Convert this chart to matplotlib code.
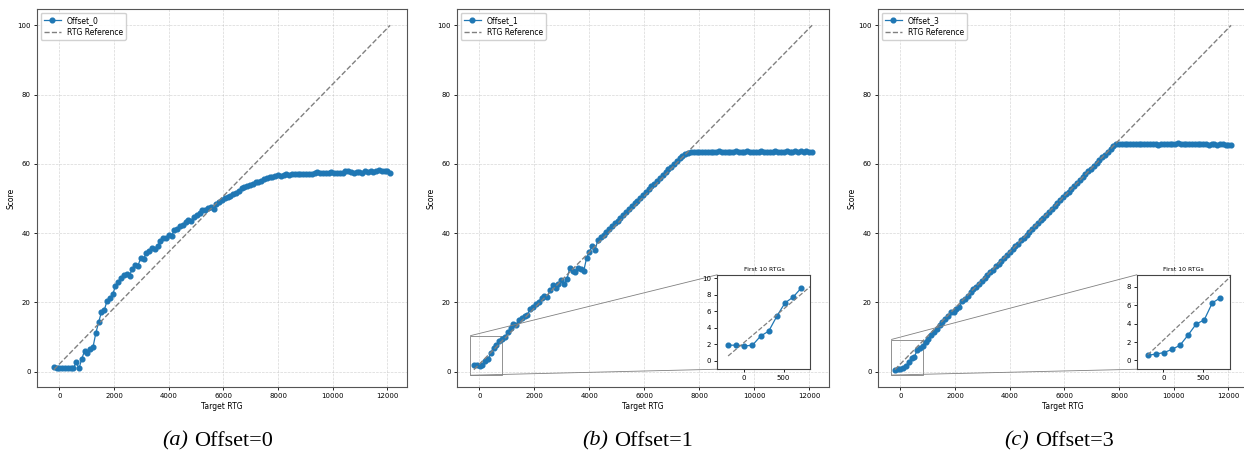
import numpy as np
import matplotlib
matplotlib.use("Agg")
import matplotlib.pyplot as plt
from mpl_toolkits.axes_grid1.inset_locator import mark_inset

# target RTG grid (121 evaluated targets)
rtg = np.arange(-200, 12101, 102.5)

# reference line end points (score at first / last RTG)
ref_line = [0.6, 100.0]

score_offset_0 = [
    1.4, 1.2, 1.2, 1.1, 1.1, 1.1, 1.1, 1.1, 2.7, 1.0,
    3.8, 6.1, 5.4, 6.6, 7.2, 11.2, 14.3, 17.3, 17.8, 20.5,
    21.3, 22.3, 24.8, 26.0, 27.0, 27.8, 28.1, 27.7, 29.8, 30.8,
    30.6, 32.8, 32.5, 34.3, 34.8, 35.6, 35.3, 36.4, 37.6, 38.7,
    38.5, 39.6, 39.3, 40.8, 41.1, 42.2, 42.4, 43.3, 43.9, 43.6,
    44.8, 45.3, 45.9, 46.6, 46.8, 47.4, 47.5, 47.0, 48.3, 48.9,
    49.6, 50.1, 50.4, 50.7, 51.2, 51.7, 52.2, 52.9, 53.3, 53.6,
    53.9, 54.2, 54.7, 54.8, 55.2, 55.6, 55.9, 56.1, 56.3, 56.6,
    56.7, 56.4, 56.8, 57.0, 56.9, 57.1, 57.2, 57.1, 57.2, 57.0,
    57.1, 57.2, 57.0, 57.3, 57.6, 57.4, 57.3, 57.5, 57.4, 57.6,
    57.5, 57.3, 57.5, 57.4, 57.8, 57.8, 57.7, 57.5, 57.6, 57.6,
    57.5, 57.8, 57.7, 57.8, 57.6, 57.9, 58.2, 57.8, 58.0, 57.8,
    57.5,
]

score_offset_1 = [
    1.9, 1.9, 1.8, 1.9, 3.0, 3.6, 5.4, 7.0, 7.7, 8.8,
    9.4, 10.0, 11.4, 12.6, 13.7, 13.6, 14.9, 15.6, 16.2, 16.5,
    18.2, 18.8, 19.7, 20.2, 21.4, 22.0, 21.6, 23.5, 25.0, 24.2,
    25.3, 26.5, 25.4, 26.7, 29.9, 29.1, 28.9, 30.0, 29.8, 29.2,
    32.9, 34.6, 36.4, 35.1, 38.1, 38.8, 39.6, 40.4, 41.2, 42.0,
    42.8, 43.6, 44.4, 45.3, 46.1, 46.9, 47.7, 48.6, 49.4, 50.2,
    51.0, 51.8, 52.7, 53.5, 54.3, 55.1, 55.9, 56.8, 57.6, 58.4,
    59.2, 60.0, 60.8, 61.6, 62.3, 62.8, 63.2, 63.4, 63.5, 63.4,
    63.5, 63.3, 63.5, 63.4, 63.5, 63.4, 63.3, 63.6, 63.5, 63.4,
    63.5, 63.3, 63.4, 63.6, 63.5, 63.5, 63.4, 63.6, 63.5, 63.3,
    63.4, 63.4, 63.6, 63.5, 63.5, 63.4, 63.5, 63.6, 63.4, 63.5,
    63.3, 63.7, 63.5, 63.4, 63.6, 63.5, 63.6, 63.5, 63.6, 63.5,
    63.5,
]

score_offset_3 = [
    0.55, 0.7, 0.85, 1.2, 1.65, 2.75, 3.95, 4.4, 6.25, 6.8,
    7.4, 8.6, 9.5, 10.7, 11.6, 12.4, 13.4, 14.3, 15.1, 16.0,
    17.2, 17.3, 18.0, 18.8, 20.3, 21.0, 22.0, 22.9, 23.8, 24.6,
    25.4, 26.2, 27.0, 27.9, 28.7, 29.5, 30.4, 31.2, 32.0, 32.9,
    33.7, 34.5, 35.4, 36.2, 37.0, 37.9, 38.7, 39.5, 40.4, 41.2,
    42.0, 42.8, 43.7, 44.5, 45.3, 46.2, 47.0, 47.8, 48.7, 49.5,
    50.3, 51.2, 52.0, 52.8, 53.6, 54.5, 55.3, 56.1, 57.0, 57.8,
    58.6, 59.4, 60.3, 61.1, 61.9, 62.7, 63.5, 64.3, 65.1, 65.6,
    65.7, 65.8, 65.7, 65.8, 65.7, 65.7, 65.6, 65.7, 65.7, 65.6,
    65.7, 65.6, 65.7, 65.7, 65.4, 65.7, 65.7, 65.8, 65.6, 65.7,
    65.7, 66.0, 65.8, 65.7, 65.7, 65.6, 65.7, 65.7, 65.8, 65.7,
    65.6, 65.7, 65.5, 65.6, 65.6, 65.5, 65.6, 65.6, 65.5, 65.5,
    65.4,
]

offset_labels = ["Offset_0", "Offset_1", "Offset_3"]
caption_tags = ["(a)", "(b)", "(c)"]
caption_texts = ["Offset=0", "Offset=1", "Offset=3"]

W, H = 1244, 458
fig = plt.figure(figsize=(W / 100, H / 100), dpi=100)

# panel frames in pixels: left, top, width, height
panel_px = [(37, 9, 370, 378), (457, 9, 372, 378), (878, 9, 370, 378)]
caption_px = [(188, 194), (608, 614), (1029, 1035)]
inset_ylims = [None, (-1.0, 10.4), (-0.95, 9.3)]

all_scores = [score_offset_0, score_offset_1, score_offset_3]
blue = "#1f77b4"

for k, scores in enumerate(all_scores):
    l, t, w, h = panel_px[k]
    ax = fig.add_axes([l / W, (H - t - h) / H, w / W, h / H])
    ax.plot(rtg, scores, marker="o", color=blue, markersize=3.4, linewidth=0.9,
            label=offset_labels[k])
    ax.plot([rtg[0], rtg[-1]], ref_line, "--", color="gray", linewidth=1.0,
            label="RTG Reference")
    ax.set_xlim(-815, 12715)
    ax.set_ylim(-4.4, 104.7)
    ax.set_xticks([0, 2000, 4000, 6000, 8000, 10000, 12000])
    ax.set_yticks([0, 20, 40, 60, 80, 100])
    ax.tick_params(labelsize=5, length=2.5, width=0.6, pad=2)
    ax.set_xlabel("Target RTG", fontsize=5.5, labelpad=2)
    ax.set_ylabel("Score", fontsize=5.5, labelpad=1)
    ax.grid(True, linestyle="--", linewidth=0.5, alpha=0.5)
    for s in ax.spines.values():
        s.set_linewidth(0.8)
        s.set_color("#555555")
    ax.legend(loc="upper left", fontsize=5.5, handlelength=2.2,
              borderpad=0.4, labelspacing=0.4, framealpha=0.9)

    if inset_ylims[k] is not None:
        axins = ax.inset_axes([0.70, 0.047, 0.25, 0.25])
        axins.plot(rtg[:10], scores[:10], marker="o", color=blue,
                   markersize=3.4, linewidth=0.9)
        axins.plot([rtg[0], rtg[-1]], ref_line, "--", color="gray", linewidth=0.9)
        axins.set_xlim(-335, 838)
        axins.set_ylim(*inset_ylims[k])
        axins.set_xticks([0, 500])
        axins.set_yticks(range(0, int(inset_ylims[k][1]) + 1, 2))
        axins.tick_params(labelsize=5, length=2.5, width=0.6, pad=2)
        axins.set_title("First 10 RTGs", fontsize=4.5, pad=3)
        for s in axins.spines.values():
            s.set_linewidth(0.8)
            s.set_color("#444444")
        mark_inset(ax, axins, loc1=2, loc2=3, fc="none", ec="0.5", lw=0.6)

    xr, xl = caption_px[k]
    fig.text(xr / W, (H - 441) / H, caption_tags[k], ha="right", va="center",
             fontsize=16, family="Liberation Serif", style="italic")
    fig.text(xl / W, (H - 441) / H, caption_texts[k], ha="left", va="center",
             fontsize=16, family="Liberation Serif")

fig.savefig("out.png", dpi=100)
